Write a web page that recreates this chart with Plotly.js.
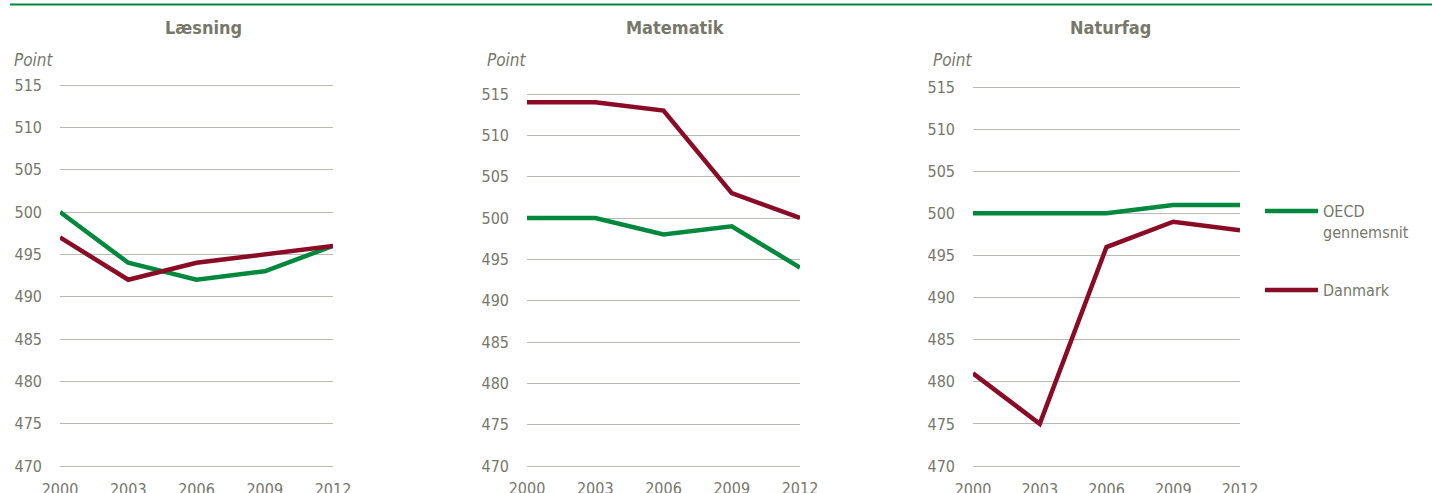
<!DOCTYPE html>
<html><head><meta charset="utf-8">
<script src="https://cdn.plot.ly/plotly-3.0.1.min.js"></script>
<style>html,body{margin:0;padding:0;background:#fff;}#chart{width:1432px;height:493px;}</style>
</head><body><div id="chart"></div>
<script>
const years = [2000, 2003, 2006, 2009, 2012];
const panelTitles = ["Læsning", "Matematik", "Naturfag"];
const seriesNames = ["OECD<br>gennemsnit", "Danmark"];
const laesningOECD = [500, 494, 492, 493, 496];
const laesningDK = [497, 492, 494, 495, 496];
const matematikOECD = [500, 500, 498, 499, 494];
const matematikDK = [514, 514, 513, 503, 500];
const naturfagOECD = [500, 500, 500, 501, 501];
const naturfagDK = [481, 475, 496, 499, 498];
const yTicks = [470, 475, 480, 485, 490, 495, 500, 505, 510, 515];
const unitLabel = "Point";

const GREEN = "#00883d", RED = "#8a0b26", GREY = "#77776a";
const FONT = "'DejaVu Sans Condensed', 'Liberation Sans Narrow', 'Arial Narrow', 'Liberation Sans', sans-serif";
const W = 1432, H = 493;
const px = v => v / W, py = v => 1 - v / H;
const PAD = 0.3;

const panels = [
  {oecd: laesningOECD, dk: laesningDK, x0: 60, x1: 333, top: 85},
  {oecd: matematikOECD, dk: matematikDK, x0: 527, x1: 800, top: 94},
  {oecd: naturfagOECD, dk: naturfagDK, x0: 973, x1: 1240, top: 87}
];
const titleX = [203, 675, 1110];
const pointX = [12, 485, 931];

const traces = [];
const layout = {
  width: W, height: H, margin: {l: 0, r: 0, t: 0, b: 0},
  paper_bgcolor: "#fff", plot_bgcolor: "#fff",
  font: {family: FONT, color: GREY, size: 16},
  showlegend: false,
  annotations: [], shapes: [
    {type: "line", xref: "paper", yref: "paper", x0: px(10), x1: 1, y0: py(4.5), y1: py(4.5),
     line: {color: GREEN, width: 2}}
  ]
};

panels.forEach((p, i) => {
  const n = i + 1;
  const xa = n === 1 ? "x" : "x" + n, ya = n === 1 ? "y" : "y" + n;
  traces.push({x: years, y: p.oecd, xaxis: xa, yaxis: ya, mode: "lines", name: seriesNames[0],
    line: {color: GREEN, width: 4.5}, cliponaxis: false, hoverinfo: "skip"});
  traces.push({x: years, y: p.dk, xaxis: xa, yaxis: ya, mode: "lines", name: seriesNames[1],
    line: {color: RED, width: 4.5}, cliponaxis: false, hoverinfo: "skip"});
  const xk = n === 1 ? "xaxis" : "xaxis" + n, yk = n === 1 ? "yaxis" : "yaxis" + n;
  const ppu = (466 - p.top) / 45;
  layout[xk] = {domain: [px(p.x0), px(p.x1)], anchor: ya, range: [2000, 2012], tickvals: years,
    showgrid: false, zeroline: false, showline: false, ticks: "", ticklabelstandoff: 9,
    tickfont: {family: FONT, size: 16, color: GREY}, fixedrange: true};
  layout[yk] = {domain: [py(466 + PAD * ppu), py(p.top - PAD * ppu)], anchor: xa,
    range: [470 - PAD, 515 + PAD], tickvals: yTicks,
    showgrid: true, gridcolor: "#bcbab0", gridwidth: 1, zeroline: false, showline: false, ticks: "",
    ticklabelstandoff: 17, tickfont: {family: FONT, size: 16, color: GREY}, fixedrange: true};
  layout.annotations.push({text: "<b>" + panelTitles[i] + "</b>", xref: "paper", yref: "paper",
    x: px(titleX[i]), y: py(28), xanchor: "center", yanchor: "middle", showarrow: false,
    font: {family: FONT, size: 18, color: GREY}});
  layout.annotations.push({text: "<i>" + unitLabel + "</i>", xref: "paper", yref: "paper",
    x: px(pointX[i]), y: py(60), xanchor: "left", yanchor: "middle", showarrow: false,
    font: {family: FONT, size: 17, color: GREY}});
});

// legend (drawn as key lines + labels)
const legendItems = [{name: seriesNames[0], color: GREEN, y: 211, ty: 222},
                     {name: seriesNames[1], color: RED, y: 290, ty: 290}];
legendItems.forEach(it => {
  layout.shapes.push({type: "line", xref: "paper", yref: "paper", x0: px(1265), x1: px(1318),
    y0: py(it.y), y1: py(it.y), line: {color: it.color, width: 4.5}});
  layout.annotations.push({text: it.name, xref: "paper", yref: "paper", x: px(1321), y: py(it.ty),
    xanchor: "left", yanchor: "middle", align: "left", showarrow: false,
    font: {family: FONT, size: 16, color: GREY}});
});

Plotly.newPlot("chart", traces, layout, {displayModeBar: false, staticPlot: true});
</script></body></html>
